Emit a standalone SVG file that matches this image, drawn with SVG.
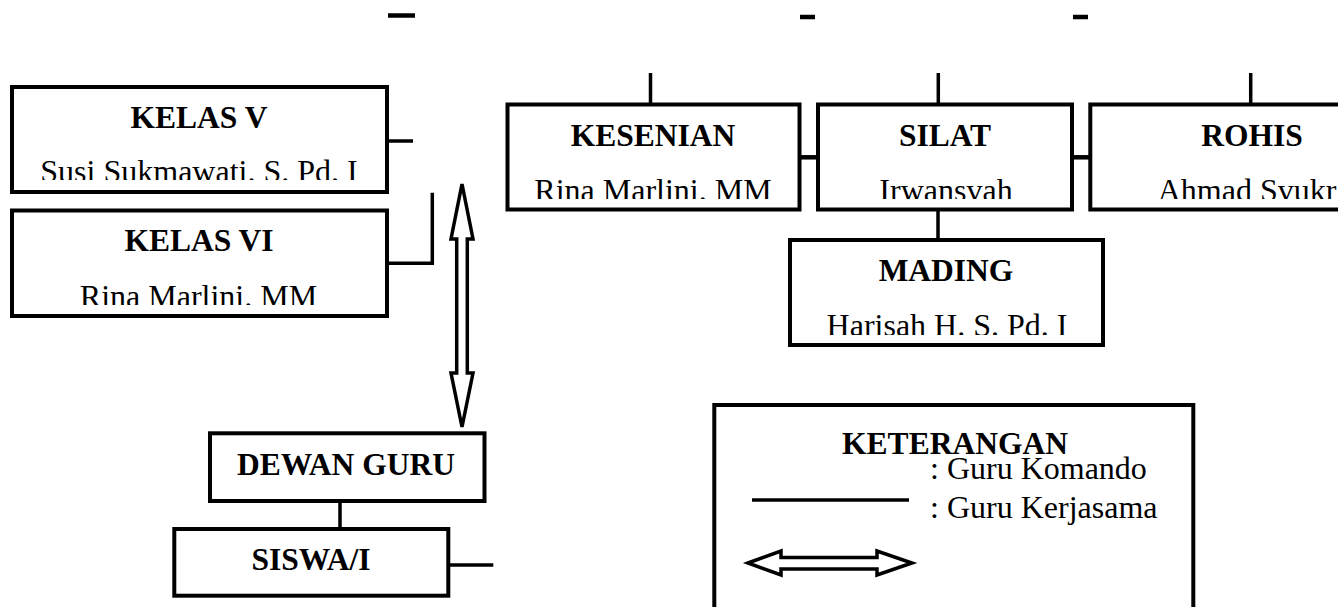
<svg xmlns="http://www.w3.org/2000/svg" width="1338" height="607" viewBox="0 0 1338 607">
<style>
.box{fill:#fff;stroke:#000;stroke-width:4}
.ln{fill:none;stroke:#000;stroke-width:3.5}
.dash{fill:none;stroke:#000;stroke-width:4.5}
.arr{fill:#fff;stroke:#000;stroke-width:3.5;stroke-linejoin:miter}
.t{font-family:"Liberation Serif","Times New Roman",serif;font-size:31.5px;font-weight:bold;fill:#000;text-anchor:middle}
.n{font-family:"Liberation Serif","Times New Roman",serif;font-size:32px;fill:#000;text-anchor:middle}
.l{font-family:"Liberation Serif","Times New Roman",serif;font-size:32px;fill:#000}
</style>
<defs>
<clipPath id="c1"><rect x="0" y="0" width="1338" height="180"/></clipPath>
<clipPath id="c2"><rect x="0" y="0" width="1338" height="305"/></clipPath>
<clipPath id="c3"><rect x="0" y="0" width="1338" height="199"/></clipPath>
<clipPath id="c4"><rect x="0" y="0" width="1338" height="335"/></clipPath>
</defs>
<rect width="1338" height="607" fill="#fff"/>
<g id="connectors">
<line class="dash" x1="388" y1="15.5" x2="415" y2="15.5"/>
<line class="dash" x1="800" y1="17" x2="815" y2="17"/>
<line class="dash" x1="1073" y1="17" x2="1088" y2="17"/>
<line class="ln" x1="387" y1="141" x2="413" y2="141"/>
<polyline class="ln" points="387,263.3 432.3,263.3 432.3,192.7"/>
<line class="ln" x1="650.5" y1="73" x2="650.5" y2="104"/>
<line class="ln" x1="938.3" y1="73" x2="938.3" y2="104"/>
<line class="ln" x1="1250.7" y1="73" x2="1250.7" y2="104"/>
<line class="dash" x1="800" y1="157.3" x2="818" y2="157.3"/>
<line class="dash" x1="1072" y1="157.3" x2="1090" y2="157.3"/>
<line class="ln" x1="938" y1="209" x2="938" y2="240"/>
<line class="ln" x1="340" y1="501" x2="340" y2="529"/>
<line class="ln" x1="448" y1="565" x2="493.3" y2="565"/>
<path class="arr" d="M462,184 L473,239 L467.3,239 L467.3,373 L473,373 L462,427 L451,373 L456.7,373 L456.7,239 L451,239 Z"/>
</g>
<g id="kelas5">
<rect class="box" x="12" y="87" width="375" height="105"/>
<text class="t" x="199" y="128">KELAS V</text>
<text class="n" x="199" y="182" clip-path="url(#c1)">Susi Sukmawati. S. Pd. I</text>
</g>
<g id="kelas6">
<rect class="box" x="12" y="210.5" width="375" height="105.5"/>
<text class="t" x="199" y="251">KELAS VI</text>
<text class="n" x="198.5" y="307" clip-path="url(#c2)">Rina Marlini. MM</text>
</g>
<g id="kesenian">
<rect class="box" x="507.5" y="104.5" width="292" height="105"/>
<text class="t" x="653" y="146">KESENIAN</text>
<text class="n" x="653" y="201" clip-path="url(#c3)">Rina Marlini. MM</text>
</g>
<g id="silat">
<rect class="box" x="818" y="104.5" width="254" height="105"/>
<text class="t" x="945" y="146">SILAT</text>
<text class="n" x="946" y="201" clip-path="url(#c3)">Irwansvah</text>
</g>
<g id="rohis">
<rect class="box" x="1090.3" y="104.5" width="262" height="105"/>
<text class="t" x="1252" y="146">ROHIS</text>
<text class="n" x="1247" y="201" clip-path="url(#c3)">Ahmad Svukr</text>
</g>
<g id="mading">
<rect class="box" x="790" y="240" width="313" height="105"/>
<text class="t" x="946" y="281">MADING</text>
<text class="n" x="947" y="336" clip-path="url(#c4)">Harisah H. S. Pd. I</text>
</g>
<g id="dewanguru">
<rect class="box" x="210" y="433.3" width="274.5" height="67.7"/>
<text class="t" x="346" y="475">DEWAN GURU</text>
</g>
<g id="siswa">
<rect class="box" x="174.3" y="529" width="274" height="66.7"/>
<text class="t" x="311" y="570">SISWA/I</text>
</g>
<g id="keterangan">
<rect class="box" x="714.3" y="405" width="479" height="230"/>
<text class="t" x="955" y="454">KETERANGAN</text>
<text class="l" x="930" y="479">: Guru Komando</text>
<line class="ln" x1="752" y1="500" x2="909" y2="500"/>
<text class="l" x="930" y="518">: Guru Kerjasama</text>
<path class="arr" d="M748,563 L781,551 L781,557.5 L877,557.5 L877,551 L912,563 L877,575 L877,569 L781,569 L781,575 Z"/>
</g>
</svg>
